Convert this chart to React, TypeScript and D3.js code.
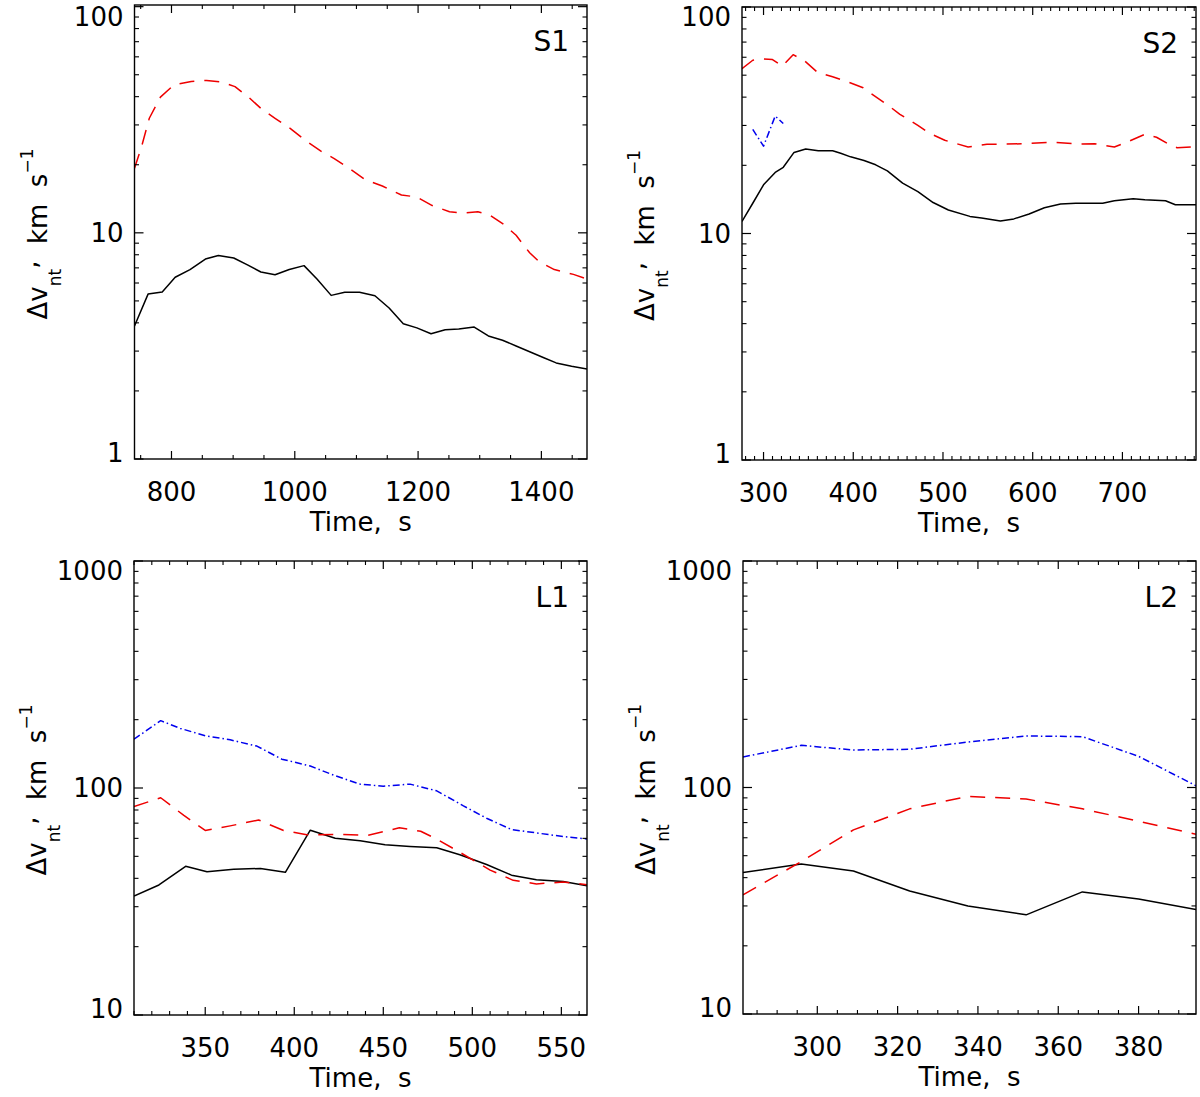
import * as d3 from "d3";

const FONT = "'DejaVu Sans', sans-serif";
const RED = "#ee0000";
const BLUE = "#0000ee";

// S1
const s1BlackTime = [740, 762, 785, 806, 830, 855, 876, 901, 924, 945, 968, 991, 1015, 1036, 1059, 1081, 1105, 1130, 1153, 1176, 1198, 1221, 1244, 1266, 1291, 1314, 1337, 1359, 1381, 1403, 1424, 1449, 1474];
const s1Black = [3.87, 5.36, 5.48, 6.36, 6.88, 7.66, 7.94, 7.74, 7.2, 6.71, 6.53, 6.88, 7.16, 6.25, 5.29, 5.46, 5.46, 5.27, 4.65, 3.96, 3.8, 3.58, 3.73, 3.76, 3.83, 3.5, 3.35, 3.16, 2.98, 2.81, 2.66, 2.57, 2.5];
const s1RedTime = [740, 751, 764, 782, 804, 832, 857, 881, 903, 925, 947, 968, 993, 1018, 1043, 1064, 1089, 1114, 1142, 1173, 1198, 1223, 1251, 1272, 1297, 1316, 1340, 1359, 1381, 1396, 1421, 1452, 1474];
const s1Red = [19.3, 23.8, 32.1, 39.8, 45.1, 46.7, 47.2, 46.4, 44.3, 39.8, 35.1, 32.1, 28.9, 25.5, 22.9, 21.3, 19.2, 17.2, 16.1, 14.7, 14.4, 13.2, 12.4, 12.2, 12.4, 12.0, 10.85, 9.75, 8.16, 7.47, 6.88, 6.55, 6.25];

// S2
const s2BlackTime = [276, 288, 300, 313, 322, 334, 347, 361, 377, 386, 397, 412, 425, 438, 455, 472, 489, 506, 530, 543, 564, 579, 596, 613, 631, 648, 678, 691, 712, 725, 748, 759, 782];
const s2Black = [11.3, 13.6, 16.4, 18.6, 19.6, 22.8, 23.6, 23.2, 23.2, 22.6, 21.8, 21.0, 20.1, 18.9, 16.7, 15.3, 13.7, 12.7, 11.9, 11.7, 11.35, 11.6, 12.2, 13.0, 13.5, 13.6, 13.6, 13.95, 14.25, 14.1, 13.95, 13.4, 13.4];
const s2RedTime = [276, 288, 299, 310, 321, 333, 346, 360, 377, 392, 411, 424, 440, 452, 472, 485, 502, 528, 549, 566, 588, 622, 652, 669, 691, 706, 725, 738, 751, 761, 782];
const s2Red = [53.4, 58.2, 59.0, 58.6, 54.8, 61.6, 57.7, 51.5, 49.2, 47.0, 44.0, 40.4, 36.5, 33.6, 30.0, 27.7, 25.8, 24.1, 24.8, 24.8, 24.9, 25.3, 24.8, 24.9, 24.1, 25.4, 27.4, 26.6, 24.9, 23.9, 24.2];
const s2BlueTime = [288, 300, 313, 322];
const s2Blue = [28.8, 24.3, 33, 30.6];

// L1
const l1BlueTime = [310, 325, 336, 350, 364, 379, 393, 409, 422, 437, 450, 465, 480, 495, 508, 522, 536, 551, 564.4];
const l1Blue = [164, 198, 183, 170, 163, 153, 134, 125, 114, 104, 101.8, 104, 97.2, 83.4, 73.6, 65.6, 63.4, 61.1, 59.6];
const l1RedTime = [310, 325, 338, 350, 364, 380, 394, 407, 424, 441, 459, 471, 480, 493, 510, 523, 536, 551, 564.4];
const l1Red = [82.8, 90.6, 75.7, 65.0, 68.1, 72.3, 65.0, 62.2, 62.5, 61.8, 66.8, 64.5, 59.6, 52.1, 43.5, 39.2, 37.8, 38.5, 37.5];
const l1BlackTime = [310, 324, 339, 351, 366, 381, 395, 409, 423, 437, 451, 465, 480, 493, 508, 522, 536, 551, 564.4];
const l1Black = [33.4, 37.4, 45.2, 42.8, 43.9, 44.2, 42.5, 65.2, 60.1, 58.6, 56.3, 55.3, 54.5, 50.8, 46.0, 41.3, 39.4, 38.7, 37.1];

// L2
const l2Time = [281.5, 296, 309, 323, 337.5, 352, 366, 380, 394.3];
const l2Blue = [136.4, 153.5, 146.4, 147.5, 158.8, 168.9, 167.7, 137.3, 101.8];
const l2Red = [33.6, 47.1, 65.0, 80.5, 91.4, 88.9, 80.5, 71.0, 62.2];
const l2Black = [42.1, 46.0, 42.8, 34.9, 30.0, 27.4, 34.6, 32.2, 28.9];

type Series = {t: number[]; v: number[]; color: string; dash?: string};

type PanelProps = {
    label: string;
    left: number; right: number; top: number; bottom: number;
    xDomain: [number, number];
    yDomain: [number, number];
    xTicks: number[];
    xMinor: number;
    series: Series[];
};

const Panel = (p: PanelProps) => {
    const x = d3.scaleLinear().domain(p.xDomain).range([p.left, p.right]);
    const y = d3.scaleLog().domain(p.yDomain).range([p.bottom, p.top]);
    const line = d3.line<[number, number]>().x(d => x(d[0])).y(d => y(d[1]));

    // log ticks
    const [y0, y1] = p.yDomain;
    const yMajor: number[] = [];
    const yMinor: number[] = [];
    for (let e = Math.floor(Math.log10(y0)); e <= Math.ceil(Math.log10(y1)); e++) {
        const base = Math.pow(10, e);
        if (base >= y0 * 0.999 && base <= y1 * 1.001) yMajor.push(base);
        for (let k = 2; k <= 9; k++) {
            const v = k * base;
            if (v > y0 && v < y1) yMinor.push(v);
        }
    }
    const xMinorTicks: number[] = [];
    for (let v = Math.ceil(p.xDomain[0] / p.xMinor) * p.xMinor; v <= p.xDomain[1]; v += p.xMinor) {
        if (!p.xTicks.includes(v)) xMinorTicks.push(v);
    }

    const clipId = "clip-" + p.label;
    const midY = (p.top + p.bottom) / 2;

    return <g>
        <defs>
            <clipPath id={clipId}>
                <rect x={p.left} y={p.top} width={p.right - p.left} height={p.bottom - p.top}/>
            </clipPath>
        </defs>

        {/* series */}
        <g clipPath={`url(#${clipId})`}>
            {p.series.map((s, i) =>
                <path key={i} d={line(d3.zip(s.t, s.v) as [number, number][]) || ""}
                      fill="none" stroke={s.color} strokeWidth={1.5}
                      strokeDasharray={s.dash} strokeLinejoin="round"/>)}
        </g>

        {/* frame */}
        <rect x={p.left} y={p.top} width={p.right - p.left} height={p.bottom - p.top}
              fill="none" stroke="#000" strokeWidth={1.4}/>

        {/* x ticks */}
        {p.xTicks.map(v => <g key={"xM" + v}>
            <line x1={x(v)} x2={x(v)} y1={p.bottom} y2={p.bottom - 8} stroke="#000" strokeWidth={1.2}/>
            <line x1={x(v)} x2={x(v)} y1={p.top} y2={p.top + 8} stroke="#000" strokeWidth={1.2}/>
            <text x={x(v)} y={p.bottom + 42} textAnchor="middle" fontSize={26} fontFamily={FONT}>{v}</text>
        </g>)}
        {xMinorTicks.map(v => <g key={"xm" + v}>
            <line x1={x(v)} x2={x(v)} y1={p.bottom} y2={p.bottom - 4} stroke="#000" strokeWidth={1.1}/>
            <line x1={x(v)} x2={x(v)} y1={p.top} y2={p.top + 4} stroke="#000" strokeWidth={1.1}/>
        </g>)}

        {/* y ticks */}
        {yMajor.map((v, i) => {
            const yy = y(v);
            let off = 0;
            if (Math.abs(yy - p.top) < 4) off = 10;
            if (Math.abs(yy - p.bottom) < 4) off = -6;
            return <g key={"yM" + i}>
                <line x1={p.left} x2={p.left + 9} y1={yy} y2={yy} stroke="#000" strokeWidth={1.2}/>
                <line x1={p.right} x2={p.right - 9} y1={yy} y2={yy} stroke="#000" strokeWidth={1.2}/>
                <text x={p.left - 11} y={yy + off} dy="0.36em" textAnchor="end" fontSize={26}
                      fontFamily={FONT}>{v}</text>
            </g>;
        })}
        {yMinor.map((v, i) => <g key={"ym" + i}>
            <line x1={p.left} x2={p.left + 4.5} y1={y(v)} y2={y(v)} stroke="#000" strokeWidth={1.1}/>
            <line x1={p.right} x2={p.right - 4.5} y1={y(v)} y2={y(v)} stroke="#000" strokeWidth={1.1}/>
        </g>)}

        {/* axis titles */}
        <text x={(p.left + p.right) / 2} y={p.bottom + 72} textAnchor="middle" fontSize={26}
              fontFamily={FONT}>{"Time,\u00a0 s"}</text>
        <text transform={`translate(${p.left - 88},${midY + 2}) rotate(-90)`} textAnchor="middle"
              fontSize={26} fontFamily={FONT}>
            <tspan>Δv</tspan>
            <tspan fontSize={17} dy={14}>nt</tspan>
            <tspan dy={-24}>,</tspan>
            <tspan dy={10}>{"\u00a0 km\u00a0 s"}</tspan>
            <tspan fontSize={17} dy={-14}>−1</tspan>
        </text>

        {/* panel label */}
        <text x={p.right - 18} y={p.top + 46} textAnchor="end" fontSize={28} fontFamily={FONT}>{p.label}</text>
    </g>;
};

const App = () => {
    return <svg width={1200} height={1097} style={{position: "absolute", left: 0, top: 0, background: "#fff"}}>
        <Panel label="S1" left={134.5} right={587} top={5} bottom={459}
               xDomain={[740, 1474]} yDomain={[1, 101.7]} xTicks={[800, 1000, 1200, 1400]} xMinor={50}
               series={[
                   {t: s1BlackTime, v: s1Black, color: "#000"},
                   {t: s1RedTime, v: s1Red, color: RED, dash: "15,10"},
               ]}/>
        <Panel label="S2" left={742} right={1196} top={7} bottom={460}
               xDomain={[276, 782]} yDomain={[1, 100]} xTicks={[300, 400, 500, 600, 700]} xMinor={10}
               series={[
                   {t: s2BlackTime, v: s2Black, color: "#000"},
                   {t: s2RedTime, v: s2Red, color: RED, dash: "15,10"},
                   {t: s2BlueTime, v: s2Blue, color: BLUE, dash: "7,3,1.5,3"},
               ]}/>
        <Panel label="L1" left={134} right={587} top={561} bottom={1015}
               xDomain={[310, 564.4]} yDomain={[10, 1000]} xTicks={[350, 400, 450, 500, 550]} xMinor={10}
               series={[
                   {t: l1BlackTime, v: l1Black, color: "#000"},
                   {t: l1RedTime, v: l1Red, color: RED, dash: "15,10"},
                   {t: l1BlueTime, v: l1Blue, color: BLUE, dash: "7,3,1.5,3"},
               ]}/>
        <Panel label="L2" left={743} right={1196} top={561} bottom={1014}
               xDomain={[281.5, 394.3]} yDomain={[10, 1000]} xTicks={[300, 320, 340, 360, 380]} xMinor={5}
               series={[
                   {t: l2Time, v: l2Black, color: "#000"},
                   {t: l2Time, v: l2Red, color: RED, dash: "15,10"},
                   {t: l2Time, v: l2Blue, color: BLUE, dash: "7,3,1.5,3"},
               ]}/>
    </svg>;
};

export default App;
